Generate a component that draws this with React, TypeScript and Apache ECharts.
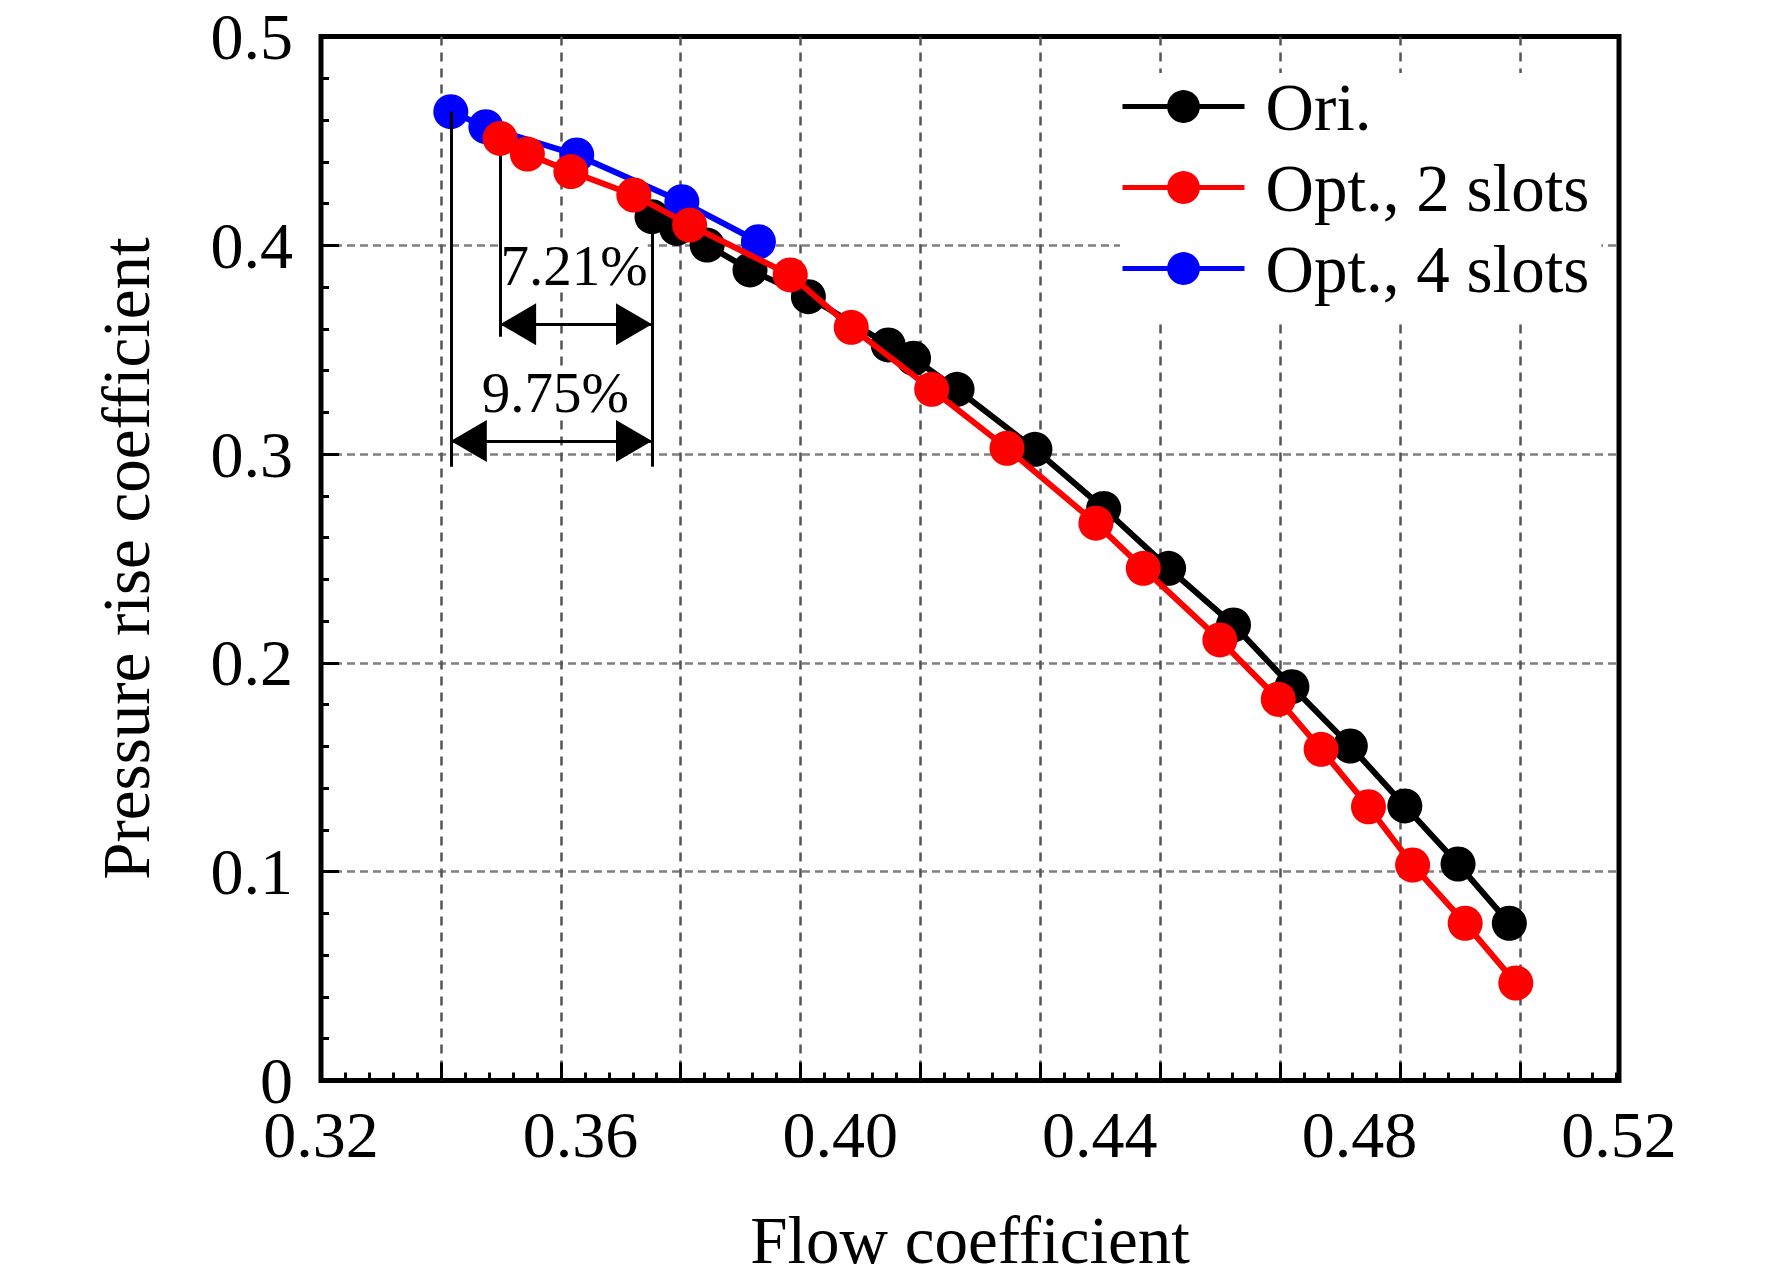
import React, { useEffect, useRef } from "react";
import * as echarts from "echarts";

// ---- data ----
const oriX = [0.3710, 0.3748, 0.3795, 0.3861, 0.3951, 0.4074, 0.4113, 0.4180, 0.4300, 0.4406, 0.4506, 0.4606, 0.4696, 0.4786, 0.4870, 0.4952, 0.5031];
const oriY = [0.4137, 0.4081, 0.4001, 0.3882, 0.3754, 0.3523, 0.3459, 0.3310, 0.3023, 0.2740, 0.2453, 0.2182, 0.1886, 0.1602, 0.1315, 0.1037, 0.0753];

const slot2X = [0.3476, 0.3518, 0.3585, 0.3682, 0.3768, 0.3923, 0.4017, 0.4141, 0.4257, 0.4394, 0.4467, 0.4585, 0.4675, 0.4741, 0.4814, 0.4882, 0.4963, 0.5041];
const slot2Y = [0.4512, 0.4437, 0.4353, 0.4241, 0.4097, 0.3858, 0.3607, 0.3310, 0.3028, 0.2669, 0.2453, 0.2110, 0.1826, 0.1586, 0.1311, 0.1032, 0.0753, 0.0467];

const slot4X = [0.3400, 0.3454, 0.3594, 0.3756, 0.3874];
const slot4Y = [0.4640, 0.4568, 0.4433, 0.4209, 0.4017];

const seriesNames = ["Ori.", "Opt., 2 slots", "Opt., 4 slots"];
const seriesColors = ["#000000", "#ff0000", "#0000ff"];

const xLabelTicks = [0.32, 0.36, 0.40, 0.44, 0.48, 0.52];
const yTicks = [0, 0.1, 0.2, 0.3, 0.4, 0.5];

// annotation values (data units)
const annotBottomY = 0.2940; // bottom of the two long vertical lines
const annotMidBottomY = 0.3562; // bottom of the short vertical line
const annotMidTopY = 0.4456;
const arrowY = [0.3622, 0.3063]; // 7.21% arrow, 9.75% arrow
const annotTexts = ["7.21%", "9.75%"];
const annotTextX = [0.3590, 0.3561];
const annotTextY = [0.3901, 0.3293];

const FONT = "'Liberation Serif', 'Times New Roman', Times, serif";
const ARROW = "path://M0,-1 M-0.5,1 L0.5,1 L0,0 Z";

const zip = (xs: number[], ys: number[]) => xs.map((x, i) => [x, ys[i]]);

export default function App() {
  const ref = useRef<HTMLDivElement>(null);

  useEffect(() => {
    if (!ref.current) return;
    const chart = echarts.init(ref.current, undefined, { renderer: "svg" });

    const xL = slot4X[0];
    const xM = slot2X[0];
    const xR = oriX[0];
    const plain = (a: number[], b: number[]) => [
      { coord: a, symbol: "none" },
      { coord: b, symbol: "none" },
    ];
    const arrow = (a: number[], b: number[]) => [
      { coord: a, symbol: ARROW, symbolSize: [42, 72] },
      { coord: b, symbol: ARROW, symbolSize: [42, 72] },
    ];

    const mkLine = (name: string, idx: number, data: number[][]) => {
      const c = seriesColors[seriesNames.indexOf(name)];
      return {
        name,
        type: "line",
        data,
        symbol: "circle",
        symbolSize: 35,
        z: 3 + idx,
        color: c,
        itemStyle: { color: c },
        lineStyle: { color: c, width: 6, type: "solid" },
        emphasis: { disabled: true },
      };
    };

    const option: any = {
      animation: false,
      backgroundColor: "#ffffff",
      grid: {
        left: 321,
        right: 153,
        top: 36.5,
        bottom: 199.5,
        show: true,
        borderColor: "#000",
        borderWidth: 5,
        backgroundColor: "transparent",
        containLabel: false,
      },
      legend: {
        data: seriesNames,
        orient: "vertical",
        left: 1120,
        top: 73,
        itemWidth: 122,
        itemHeight: 41,
        itemGap: 14,
        padding: [0, 12, 16, 0],
        backgroundColor: "#ffffff",
        selectedMode: false,
        lineStyle: { width: 5 },
        textStyle: {
          fontFamily: FONT,
          fontSize: 67,
          lineHeight: 66,
          color: "#000",
          padding: [0, 0, 0, 16],
        },
      },
      xAxis: [
        {
          type: "value",
          min: xLabelTicks[0],
          max: xLabelTicks[xLabelTicks.length - 1],
          interval: 0.04,
          position: "bottom",
          name: "Flow coefficient",
          nameLocation: "middle",
          nameGap: 126,
          nameTextStyle: { fontFamily: FONT, fontSize: 67, color: "#000" },
          axisLine: { show: false },
          axisTick: { show: false },
          splitLine: { show: false },
          axisLabel: {
            fontFamily: FONT,
            fontSize: 66,
            color: "#000",
            margin: 21,
            formatter: (v: number) => v.toFixed(2),
          },
        },
        {
          type: "value",
          min: 0.32,
          max: 0.5365,
          interval: 0.02,
          position: "bottom",
          axisLine: { show: false },
          axisLabel: { show: false },
          axisTick: {
            show: true,
            inside: true,
            length: 18,
            lineStyle: { color: "#000", width: 3 },
          },
          minorTick: {
            show: true,
            splitNumber: 5,
            length: 8,
            lineStyle: { color: "#000", width: 3 },
          },
          splitLine: {
            show: true,
            showMinLine: false,
            showMaxLine: false,
            lineStyle: { color: "#555", width: 2.5, type: [9, 7] },
          },
        },
      ],
      yAxis: {
        type: "value",
        min: yTicks[0],
        max: yTicks[yTicks.length - 1],
        interval: 0.1,
        name: "Pressure rise coefficient",
        nameLocation: "middle",
        nameRotate: 90,
        nameGap: 162,
        nameTextStyle: { fontFamily: FONT, fontSize: 67, color: "#000" },
        axisLine: { show: false },
        axisTick: {
          show: true,
          inside: true,
          length: 18,
          lineStyle: { color: "#000", width: 3 },
        },
        minorTick: {
          show: true,
          splitNumber: 5,
          length: 8,
          lineStyle: { color: "#000", width: 3 },
        },
        splitLine: {
          show: true,
          showMinLine: false,
          showMaxLine: false,
          lineStyle: { color: "#808080", width: 2.5, type: [8, 5] },
        },
        axisLabel: {
          fontFamily: FONT,
          fontSize: 66,
          lineHeight: 40,
          color: "#000",
          margin: 28,
          formatter: (v: number) => (v === 0 ? "0" : v.toFixed(1)),
        },
      },
      series: [
        {
          name: "annot",
          type: "scatter",
          z: 2,
          symbolSize: 0,
          itemStyle: { color: "#000" },
          data: annotTexts.map((t, i) => [annotTextX[i], annotTextY[i], t]),
          label: {
            show: true,
            position: "inside",
            formatter: (p: any) => p.data[2],
            fontFamily: FONT,
            fontSize: 57,
            lineHeight: 50,
            color: "#000",
            opacity: 1,
            textBorderWidth: 0,
            backgroundColor: "#ffffff",
          },
          emphasis: { disabled: true },
          silent: true,
          markLine: {
            silent: true,
            symbol: ["none", "none"],
            label: { show: false },
            emphasis: { disabled: true },
            lineStyle: { color: "#000", width: 3, type: "solid" },
            data: [
              plain([xL, slot4Y[0]], [xL, annotBottomY]),
              plain([xM, annotMidTopY], [xM, annotMidBottomY]),
              plain([xR, oriY[0]], [xR, annotBottomY]),
              arrow([xM, arrowY[0]], [xR, arrowY[0]]),
              arrow([xL, arrowY[1]], [xR, arrowY[1]]),
            ],
          },
        },
        mkLine("Ori.", 0, zip(oriX, oriY)),
        mkLine("Opt., 4 slots", 1, zip(slot4X, slot4Y)),
        mkLine("Opt., 2 slots", 2, zip(slot2X, slot2Y)),
      ],
    };

    chart.setOption(option);
    return () => chart.dispose();
  }, []);

  return (
    <div
      ref={ref}
      style={{ position: "absolute", left: 0, top: 0, width: 1772, height: 1280, background: "#fff" }}
    />
  );
}
